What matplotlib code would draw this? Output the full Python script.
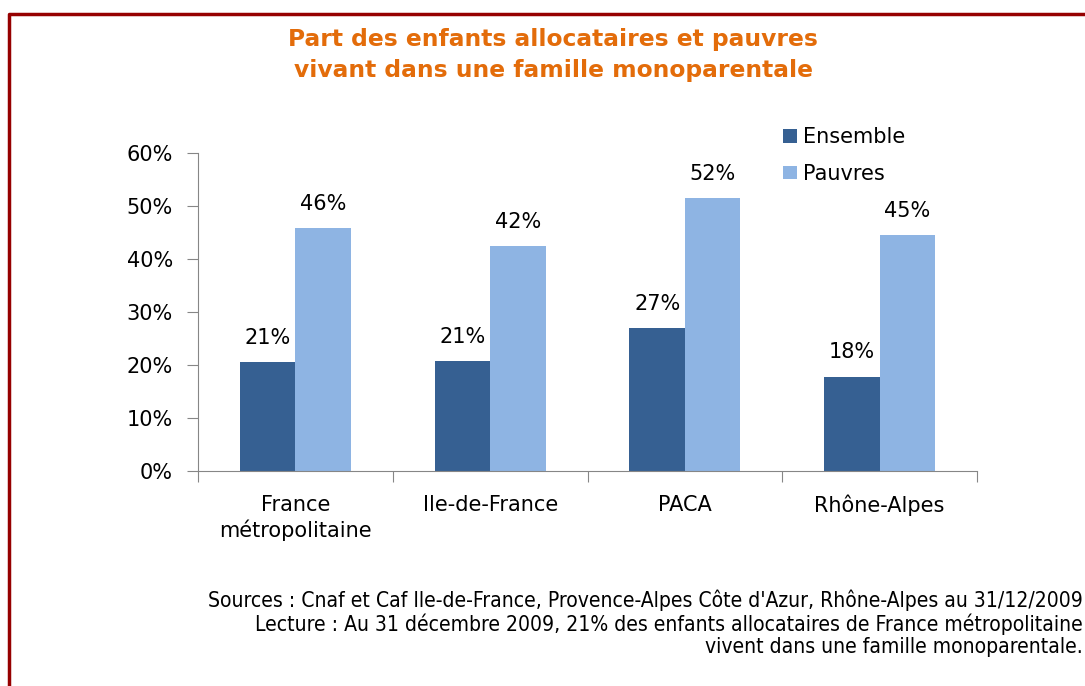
import numpy as np
import matplotlib.pyplot as plt
from matplotlib.lines import Line2D

#Data
regions = ['France\nmétropolitaine', 'Ile-de-France', 'PACA', 'Rhône-Alpes']
ensemble = [20.6, 20.7, 27.0, 17.8]
pauvres = [45.8, 42.4, 51.5, 44.5]
ensemble_labels = ['21%', '21%', '27%', '18%']
pauvres_labels = ['46%', '42%', '52%', '45%']

c_ens = '#366092'
c_pauv = '#8EB4E3'
axis_col = '#868686'

fig = plt.figure(figsize=(10.85, 6.86), dpi=100)
ax = fig.add_axes([0.1825, 0.3134, 0.718, 0.4636])

x = np.arange(len(regions))
w = 0.285
ax.bar(x - w / 2, ensemble, width=w, color=c_ens, label='Ensemble')
ax.bar(x + w / 2, pauvres, width=w, color=c_pauv, label='Pauvres')

#Value labels above bars
for i in range(len(regions)):
    ax.text(x[i] - w / 2, ensemble[i] + 2.7, ensemble_labels[i], ha='center', va='bottom', fontsize=15)
    ax.text(x[i] + w / 2, pauvres[i] + 2.7, pauvres_labels[i], ha='center', va='bottom', fontsize=15)

ax.set_xlim(-0.5, len(regions) - 0.5)
ax.set_ylim(0, 60)
ax.set_yticks(np.arange(0, 61, 10))
ax.set_yticklabels([f'{v}%' for v in range(0, 61, 10)], fontsize=15)
ax.set_xticks(np.arange(-0.5, len(regions), 1))
ax.set_xticklabels([])
ax.set_xticks(x, minor=True)
ax.set_xticklabels(regions, minor=True, fontsize=15, linespacing=1.3)
ax.tick_params(axis='x', which='minor', length=0, pad=17)
ax.tick_params(axis='x', which='major', length=8, direction='out', color=axis_col)
ax.tick_params(axis='y', length=8, direction='out', color=axis_col, pad=10)
for s in ['top', 'right']:
    ax.spines[s].set_visible(False)
for s in ['left', 'bottom']:
    ax.spines[s].set_color(axis_col)

leg = fig.legend(loc='upper left', bbox_to_anchor=(0.7046, 0.842), frameon=False,
                 fontsize=15, handlelength=0.65, handleheight=0.65, handletextpad=0.3,
                 labelspacing=0.8)

#Title
fig.text(0.51, 0.959, 'Part des enfants allocataires et pauvres\nvivant dans une famille monoparentale',
         ha='center', va='top', fontsize=16.8, fontweight='bold', color='#E36C0A', linespacing=1.42)

#Footnote
fig.text(0.998, 0.141,
         "Sources : Cnaf et Caf Ile-de-France, Provence-Alpes Côte d'Azur, Rhône-Alpes au 31/12/2009\n"
         "Lecture : Au 31 décembre 2009, 21% des enfants allocataires de France métropolitaine\n"
         "vivent dans une famille monoparentale.",
         ha='right', va='top', fontsize=15.1, fontstretch='condensed', linespacing=1.13)

#Border
fig.add_artist(Line2D([0.0085, 0.0085, 1.0], [0.0, 0.9795, 0.9795], color='#960000', lw=2.5))

fig.savefig('out.png', dpi=100)
